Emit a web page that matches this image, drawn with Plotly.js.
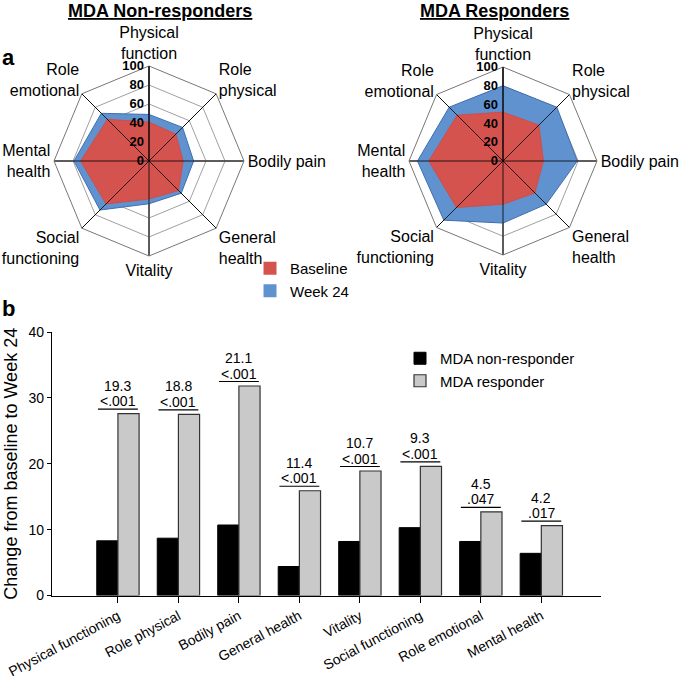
<!DOCTYPE html>
<html>
<head>
<meta charset="utf-8">
<script src="https://cdn.plot.ly/plotly-3.0.1.min.js"></script>
<style>html,body{margin:0;padding:0;background:#fff;}#chart{width:685px;height:678px;}</style>
</head>
<body>
<div id="chart"></div>
<script>
// ---- data ----
var radarCategories = ["Physical<br>function", "Role<br>physical", "Bodily pain", "General<br>health",
  "Vitality", "Social<br>functioning", "Mental<br>health", "Role<br>emotional"];
var nonRespBaseline = [41, 40, 36, 44, 40, 64, 72, 62];
var nonRespWeek24   = [49, 50, 47, 48, 45, 73, 79, 71];
var respBaseline    = [52, 54, 43, 48, 46, 70, 79, 69];
var respWeek24      = [80, 81, 79, 65, 66, 89, 91, 81];
var radarSeriesNames = ["Baseline", "Week 24"];

var barCategories = ["Physical functioning", "Role physical", "Bodily pain", "General health",
  "Vitality", "Social functioning", "Role emotional", "Mental health"];
var nonResponderChange = [8.3, 8.7, 10.7, 4.4, 8.2, 10.3, 8.2, 6.4];
var responderChange    = [27.6, 27.5, 31.8, 15.9, 18.9, 19.6, 12.7, 10.6];
var diffLabels = ["19.3", "18.8", "21.1", "11.4", "10.7", "9.3", "4.5", "4.2"];
var pLabels    = ["<.001", "<.001", "<.001", "<.001", "<.001", "<.001", ".047", ".017"];
var barSeriesNames = ["MDA non-responder", "MDA responder"];
var RMAX = 100;

// ---- styles ----
var RED = "#D4534F", BLUE = "#6092D0";
var FONT = "Liberation Sans, Arial, Helvetica, sans-serif";

function closed(a){ return a.concat([a[0]]); }
var thetaClosed = closed(radarCategories);

// spokes drawn above the fills (grid lines sit below traces in Plotly)
var spokeR = [], spokeT = [];
for (var i = 0; i < 4; i++) {
  spokeR.push(RMAX, 0, RMAX, null);
  spokeT.push(radarCategories[i], radarCategories[i], radarCategories[i + 4], null);
}

function radarTraces(subplot, base, wk){
  return [
    {type:"scatterpolar", subplot:subplot, r:closed(wk), theta:thetaClosed, mode:"lines", fill:"toself",
     fillcolor:BLUE, line:{color:"#3F6FAE", width:1}, showlegend:false, hoverinfo:"skip"},
    {type:"scatterpolar", subplot:subplot, r:closed(base), theta:thetaClosed, mode:"lines", fill:"toself",
     fillcolor:RED, line:{color:"#C9504B", width:1}, showlegend:false, hoverinfo:"skip"},
    {type:"scatterpolar", subplot:subplot, r:spokeR, theta:spokeT, mode:"lines",
     line:{color:"#000", width:0.8}, showlegend:false, hoverinfo:"skip", connectgaps:false}
  ];
}

var traces = [];
traces = traces.concat(radarTraces("polar", nonRespBaseline, nonRespWeek24));
traces = traces.concat(radarTraces("polar2", respBaseline, respWeek24));
// legend entries for radar
traces.push({type:"scatterpolar", subplot:"polar", r:[null], theta:[null], mode:"markers",
  marker:{symbol:"square", size:13, color:RED}, name:radarSeriesNames[0], legend:"legend"});
traces.push({type:"scatterpolar", subplot:"polar", r:[null], theta:[null], mode:"markers",
  marker:{symbol:"square", size:13, color:BLUE}, name:radarSeriesNames[1], legend:"legend"});

traces.push({type:"bar", x:barCategories, y:nonResponderChange, name:barSeriesNames[0],
  marker:{color:"#000", line:{color:"#000", width:1}}, legend:"legend2", xaxis:"x", yaxis:"y"});
traces.push({type:"bar", x:barCategories, y:responderChange, name:barSeriesNames[1],
  marker:{color:"#C9C9C9", line:{color:"#333", width:1.2}}, legend:"legend2", xaxis:"x", yaxis:"y"});

function polarAxes(domX, domY){
  return {
    domain:{x:domX, y:domY},
    gridshape:"linear",
    bgcolor:"#fff",
    angularaxis:{type:"category", direction:"clockwise", rotation:90, showline:true,
      linecolor:"#777", linewidth:1, gridcolor:"#000", gridwidth:0.8, ticks:"",
      tickfont:{size:16, color:"#000", family:FONT}},
    radialaxis:{range:[0, RMAX], dtick:20, angle:90, side:"counterclockwise", tickangle:90,
      showline:true, linecolor:"#000", linewidth:1, gridcolor:"#888", gridwidth:0.8, ticks:"",
      layer:"above traces",
      tickfont:{size:13, color:"#000", family:FONT, weight:"bold"}}
  };
}

var shapes = [], annotations = [];
for (var k = 0; k < barCategories.length; k++) {
  shapes.push({type:"line", xref:"x", yref:"y", ysizemode:"pixel", yanchor:responderChange[k],
    x0:k - 0.33, x1:k + 0.33, y0:4.5, y1:4.5, line:{color:"#000", width:1.2}});
  annotations.push({xref:"x", yref:"y", x:k, y:responderChange[k], yshift:12.5, yanchor:"middle",
    xanchor:"center", text:pLabels[k], showarrow:false, font:{size:14, family:FONT}});
  annotations.push({xref:"x", yref:"y", x:k, y:responderChange[k], yshift:28, yanchor:"middle",
    xanchor:"center", text:diffLabels[k], showarrow:false, font:{size:14, family:FONT}});
}
annotations.push({xref:"paper", yref:"paper", x:159.5/685, y:1 - 11/678, xanchor:"center", yanchor:"middle",
  text:"<b><u>MDA Non-responders</u></b>", showarrow:false, font:{size:18, family:FONT}});
annotations.push({xref:"paper", yref:"paper", x:494.7/685, y:1 - 11/678, xanchor:"center", yanchor:"middle",
  text:"<b><u>MDA Responders</u></b>", showarrow:false, font:{size:18, family:FONT}});
annotations.push({xref:"paper", yref:"paper", x:0, y:1 - 57/678, xanchor:"left", yanchor:"middle",
  text:"<b>a</b>", showarrow:false, font:{size:22, family:FONT}});
annotations.push({xref:"paper", yref:"paper", x:0, y:1 - 309/678, xanchor:"left", yanchor:"middle",
  text:"<b>b</b>", showarrow:false, font:{size:22, family:FONT}});

var layout = {
  width:685, height:678,
  margin:{l:0, r:0, t:0, b:0},
  paper_bgcolor:"#fff", plot_bgcolor:"#fff",
  font:{family:FONT, color:"#000"},
  polar: polarAxes([54/685, 244/685], [1 - 256/678, 1 - 66/678]),
  polar2: polarAxes([409/685, 597/685], [1 - 255/678, 1 - 67/678]),
  barmode:"group", bargap:0.3, bargroupgap:0,
  xaxis:{domain:[52/685, 600.6/685], range:[-1.09, 7.98], type:"category",
    showline:true, linecolor:"#000", linewidth:1.2, ticks:"outside", ticklen:6, tickcolor:"#000",
    tickangle:-28, tickfont:{size:14, family:FONT}, automargin:false, showgrid:false, zeroline:false},
  yaxis:{domain:[1 - 595.5/678, 1 - 332/678], range:[0, 40], dtick:10,
    showline:true, linecolor:"#000", linewidth:1.2, ticks:"outside", ticklen:4, tickcolor:"#000",
    tickfont:{size:14, family:FONT}, showgrid:false, zeroline:false, automargin:false,
    title:{text:"Change from baseline to Week 24", font:{size:18, family:FONT}, standoff:6}},
  legend:{x:250/685, y:1 - 252/678, xanchor:"left", yanchor:"top", font:{size:15, family:FONT},
    bgcolor:"rgba(0,0,0,0)", tracegroupgap:0},
  legend2:{x:400/685, y:1 - 342/678, xanchor:"left", yanchor:"top", font:{size:15, family:FONT},
    bgcolor:"rgba(0,0,0,0)", tracegroupgap:0},
  shapes:shapes,
  annotations:annotations
};

Plotly.newPlot("chart", traces, layout, {staticPlot:true});
</script>
</body>
</html>
